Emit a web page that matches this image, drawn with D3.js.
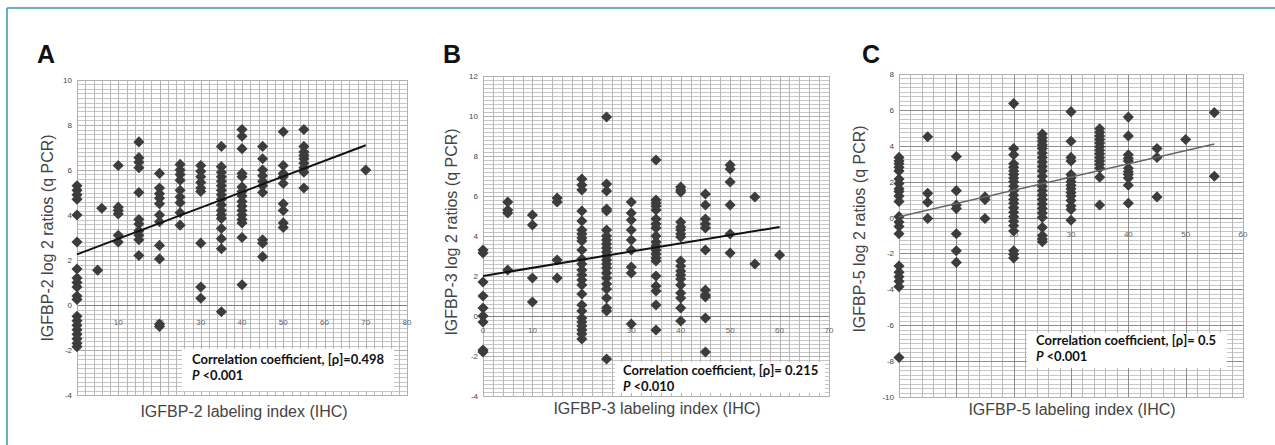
<!DOCTYPE html>
<html>
<head>
<meta charset="utf-8">
<script src="https://cdn.jsdelivr.net/npm/d3@7"></script>
<style>
  html, body { margin: 0; padding: 0; background: #ffffff; }
  svg { display: block; }
</style>
</head>
<body>
<svg id="chart" width="1275" height="445"></svg>
<script>
// ---------------- DATA ----------------
// Panel A: IGFBP-2
const xA = [0, 5, 6, 10, 15, 20, 25, 30, 35, 40, 45, 50, 55, 70];
const yA = [
  [5.3, 5.1, 4.9, 4.7, 4.0, 2.8, 1.6, 1.2, 1.0, 0.8, 0.4, 0.25, -0.5, -0.7, -0.9, -1.1, -1.3, -1.5, -1.7, -1.85],
  [1.55],
  [4.3],
  [6.2, 4.35, 4.2, 4.05, 3.1, 2.8],
  [7.25, 6.55, 6.35, 6.1, 5.0, 3.8, 3.6, 3.3, 3.1, 2.9, 2.2],
  [5.85, 5.2, 4.95, 4.75, 4.5, 4.0, 3.7, 2.65, 2.05, -0.85, -0.95],
  [6.25, 6.0, 5.8, 5.55, 5.1, 4.8, 4.55, 4.1, 3.55],
  [6.2, 5.95, 5.7, 5.45, 5.2, 5.05, 2.75, 0.8, 0.3],
  [7.05, 6.15, 5.9, 5.7, 5.5, 5.3, 5.1, 4.9, 4.7, 4.45, 4.2, 4.0, 3.85, 3.4, 2.95, 2.5, -0.3],
  [7.8, 7.5, 6.95, 5.85, 5.7, 5.25, 5.05, 4.85, 4.6, 4.4, 4.2, 4.0, 3.8, 3.65, 3.0, 0.9],
  [7.05, 6.5, 6.0, 5.75, 5.5, 5.3, 5.0, 2.9, 2.75, 2.15],
  [7.7, 6.2, 5.85, 5.7, 5.4, 4.5, 4.2, 3.65, 3.45],
  [7.8, 7.05, 6.8, 6.65, 6.5, 6.3, 6.1, 5.9, 5.2],
  [6.0]
];
const trendA = [[0, 2.25], [70, 7.1]];

// Panel B: IGFBP-3
const xB = [0, 5, 10, 15, 20, 25, 30, 35, 40, 45, 50, 55, 60];
const yB = [
  [3.3, 3.15, 1.7, 1.0, 0.4, 0.0, -0.3, -1.7, -1.8],
  [5.7, 5.3, 5.15, 2.3],
  [5.05, 4.55, 1.9, 0.7],
  [5.9, 5.7, 2.8, 1.9],
  [6.85, 6.55, 6.3, 5.25, 4.75, 4.3, 4.1, 3.9, 3.75, 3.3, 2.85, 2.6, 2.3, 2.05, 1.8, 1.55, 1.1, 0.55, 0.25, -0.1, -0.3, -0.5, -0.7, -0.9, -1.15],
  [9.95, 6.6, 6.25, 5.35, 5.25, 4.3, 4.0, 3.8, 3.6, 3.4, 3.2, 3.0, 2.8, 2.6, 2.4, 2.15, 1.9, 1.6, 1.35, 0.9, 0.4, 0.25, -2.15],
  [5.7, 5.15, 4.8, 4.3, 3.8, 3.3, 2.45, 2.15, -0.4],
  [7.8, 5.8, 5.65, 5.5, 5.3, 4.85, 4.6, 4.4, 4.0, 3.7, 3.5, 3.3, 3.1, 2.9, 2.75, 2.0, 1.5, 1.25, 0.55, -0.7],
  [6.45, 6.3, 6.2, 4.7, 4.45, 4.3, 4.1, 3.95, 2.75, 2.5, 2.25, 2.05, 1.85, 1.55, 1.15, 0.9, 0.4, -0.25],
  [6.1, 5.55, 4.85, 4.6, 4.4, 3.3, 1.3, 1.05, 0.95, -0.1, -1.8],
  [7.55, 7.35, 6.7, 5.55, 4.1, 3.15],
  [5.95, 2.6],
  [3.05]
];
const trendB = [[0, 2.0], [60, 4.45]];

// Panel C: IGFBP-5
const xC = [0, 5, 10, 15, 20, 25, 30, 35, 40, 45, 50, 55];
const yC = [
  [3.35, 3.15, 3.0, 2.8, 2.6, 2.15, 1.9, 1.6, 1.45, 1.2, 0.9, 0.05, -0.25, -0.5, -0.9, -2.7, -3.05, -3.3, -3.55, -3.85, -7.8],
  [4.5, 1.35, 0.85, -0.05],
  [3.4, 1.5, 0.7, 0.5, -0.9, -1.85, -2.5],
  [1.15, 1.0, -0.05],
  [6.35, 3.85, 3.5, 3.0, 2.8, 2.6, 2.4, 2.2, 2.0, 1.75, 1.5, 1.25, 1.0, 0.8, 0.55, 0.3, 0.05, -0.2, -0.45, -0.75, -1.85, -2.05, -2.25],
  [4.65, 4.45, 4.25, 4.05, 3.85, 3.6, 3.35, 3.1, 2.85, 2.6, 2.3, 2.0, 1.75, 1.5, 1.25, 1.0, 0.75, 0.5, 0.25, 0.0, -0.55, -1.0, -1.2, -1.35],
  [5.9, 4.25, 3.35, 3.15, 2.4, 2.2, 2.0, 1.8, 1.6, 1.4, 1.2, 0.95, 0.65, 0.45, -0.15],
  [4.95, 4.75, 4.55, 4.35, 4.15, 3.95, 3.75, 3.55, 3.35, 3.15, 2.95, 2.75, 2.25, 0.7],
  [5.6, 4.55, 3.5, 3.3, 3.15, 2.75, 2.55, 2.4, 2.2, 1.8, 0.8],
  [3.85, 3.35, 1.15],
  [4.35],
  [5.85, 2.3]
];
const trendC = [[0, 0.05], [55, 4.1]];

// Axis tick values and texts
const xTicksA = [0, 10, 20, 30, 40, 50, 60, 70, 80];
const yTicksA = [-4, -2, 0, 2, 4, 6, 8, 10];
const xTicksB = [0, 10, 20, 30, 40, 50, 60, 70];
const yTicksB = [-4, -2, 0, 2, 4, 6, 8, 10, 12];
const xTicksC = [0, 10, 20, 30, 40, 50, 60];
const yTicksC = [-10, -8, -6, -4, -2, 0, 2, 4, 6, 8];

const panelLetters = ["A", "B", "C"];
const yTitles = ["IGFBP-2 log 2 ratios (q PCR)", "IGFBP-3 log 2 ratios (q PCR)", "IGFBP-5 log 2 ratios (q PCR)"];
const xTitles = ["IGFBP-2 labeling index (IHC)", "IGFBP-3 labeling index (IHC)", "IGFBP-5 labeling index (IHC)"];
const corrTexts = ["Correlation coefficient, [\u03C1]=0.498", "Correlation coefficient, [\u03C1]= 0.215", "Correlation coefficient, [\u03C1]= 0.5"];
const pTexts = ["<0.001", "<0.010", "<0.001"];

// ---------------- LAYOUT ----------------
const svg = d3.select("#chart");

// outer teal frame (top & left edges visible)
svg.append("line").attr("x1", 7).attr("x2", 1275).attr("y1", 8).attr("y2", 8)
  .attr("stroke", "#3a97a5").attr("stroke-width", 1.5);
svg.append("line").attr("x1", 7).attr("x2", 7).attr("y1", 8).attr("y2", 445)
  .attr("stroke", "#3a97a5").attr("stroke-width", 1.5);

const panels = [
  { xs: xA, ys: yA, trend: trendA, xt: xTicksA, yt: yTicksA, xd: [0, 80], yd: [-4, 10],
    l: 77, r: 407, t: 80, b: 395, minorY: 0.2, major: false, trendColor: "#111", trendW: 2,
    letterX: 37, titleYX: 53, titleYY: 238, titleXX: 244, titleXY: 417,
    box: [182, 349, 212, 42], textX: 192, textY: 364, labOff: 20 },
  { xs: xB, ys: yB, trend: trendB, xt: xTicksB, yt: yTicksB, xd: [0, 70], yd: [-4, 12],
    l: 483, r: 829, t: 76, b: 396, minorY: 0.2, major: false, trendColor: "#111", trendW: 2,
    letterX: 443, titleYX: 457, titleYY: 232, titleXX: 657, titleXY: 414,
    box: [615, 362, 210, 31], textX: 623, textY: 375, labOff: 17 },
  { xs: xC, ys: yC, trend: trendC, xt: xTicksC, yt: yTicksC, xd: [0, 60], yd: [-10, 8],
    l: 899, r: 1243, t: 74, b: 397, minorY: 0.25, major: true, trendColor: "#666", trendW: 1.5,
    letterX: 862, titleYX: 865, titleYY: 229, titleXX: 1072, titleXY: 415,
    box: [1027, 333, 200, 35], textX: 1036, textY: 345, labOff: 19 }
];

const diamond = d3.symbol().type(d3.symbolSquare).size(62);

panels.forEach((p, i) => {
  const x = d3.scaleLinear().domain(p.xd).range([p.l, p.r]);
  const y = d3.scaleLinear().domain(p.yd).range([p.b, p.t]);
  const g = svg.append("g");

  // minor grid
  const minorX = d3.range(p.xd[0], p.xd[1] + 0.001, 2);
  const nY = Math.round((p.yd[1] - p.yd[0]) / p.minorY);
  const minorYv = d3.range(0, nY + 1).map(k => p.yd[0] + k * p.minorY);
  g.append("g").selectAll("line").data(minorYv).join("line")
    .attr("x1", p.l).attr("x2", p.r)
    .attr("y1", d => Math.round(y(d)) + 0.5).attr("y2", d => Math.round(y(d)) + 0.5)
    .attr("stroke", "#c6c6c6").attr("stroke-width", 1);
  g.append("g").selectAll("line").data(minorX).join("line")
    .attr("y1", p.t).attr("y2", p.b)
    .attr("x1", d => Math.round(x(d)) + 0.5).attr("x2", d => Math.round(x(d)) + 0.5)
    .attr("stroke", "#b8b8b8").attr("stroke-width", 1);

  // major grid
  const majColor = p.major ? "#8c8c8c" : "#b0b0b0";
  g.append("g").selectAll("line").data(p.yt).join("line")
    .attr("x1", p.l).attr("x2", p.r)
    .attr("y1", d => Math.round(y(d)) + 0.5).attr("y2", d => Math.round(y(d)) + 0.5)
    .attr("stroke", majColor).attr("stroke-width", 1);
  g.append("g").selectAll("line").data(p.xt).join("line")
    .attr("y1", p.t).attr("y2", p.b)
    .attr("x1", d => Math.round(x(d)) + 0.5).attr("x2", d => Math.round(x(d)) + 0.5)
    .attr("stroke", majColor).attr("stroke-width", 1);

  // zero line (category axis)
  g.append("line").attr("x1", p.l).attr("x2", p.r)
    .attr("y1", Math.round(y(0)) + 0.5).attr("y2", Math.round(y(0)) + 0.5)
    .attr("stroke", "#808080").attr("stroke-width", 1);

  // frame of plot
  g.append("rect").attr("x", p.l + 0.5).attr("y", p.t + 0.5)
    .attr("width", p.r - p.l).attr("height", p.b - p.t)
    .attr("fill", "none").attr("stroke", "#b0b0b0");

  // y tick labels
  g.append("g").selectAll("text").data(p.yt).join("text")
    .attr("x", p.l - 5).attr("y", d => y(d) + 3)
    .attr("text-anchor", "end")
    .attr("font-family", "Liberation Sans, Arial, sans-serif")
    .attr("font-size", 8).attr("fill", "#444")
    .text(d => d);

  // x tick labels (at the zero line)
  g.append("g").selectAll("text").data(p.xt).join("text")
    .attr("x", d => x(d)).attr("y", y(0) + p.labOff)
    .attr("text-anchor", "middle")
    .attr("font-family", "Liberation Sans, Arial, sans-serif")
    .attr("font-size", 8).attr("fill", "#666")
    .text(d => d);

  // annotation box
  g.append("rect").attr("x", p.box[0]).attr("y", p.box[1])
    .attr("width", p.box[2]).attr("height", p.box[3]).attr("fill", "#fff");
  g.append("text").attr("x", p.textX).attr("y", p.textY)
    .attr("font-family", "Lato, Open Sans, sans-serif").attr("font-weight", "bold")
    .attr("font-size", 13).attr("fill", "#111")
    .text(corrTexts[i]);
  const pt = g.append("text").attr("x", p.textX).attr("y", p.textY + 16)
    .attr("font-family", "Lato, Open Sans, sans-serif").attr("font-weight", "bold")
    .attr("font-size", 13).attr("fill", "#111");
  pt.append("tspan").attr("font-style", "italic").text("P");
  pt.append("tspan").attr("dx", 3).text(pTexts[i]);

  // points
  const pts = [];
  p.xs.forEach((xv, k) => p.ys[k].forEach(v => pts.push([xv, v])));
  g.append("g").selectAll("path").data(pts).join("path")
    .attr("d", diamond)
    .attr("transform", d => `translate(${x(d[0])},${y(d[1])}) rotate(45)`)
    .attr("fill", "#3c3c3c");

  // trend line
  g.append("path").datum(p.trend)
    .attr("d", d3.line().x(d => x(d[0])).y(d => y(d[1])))
    .attr("stroke", p.trendColor).attr("stroke-width", p.trendW).attr("fill", "none");

  // panel letter
  svg.append("text").attr("x", p.letterX).attr("y", 63)
    .attr("font-family", "Liberation Sans, Arial, sans-serif").attr("font-weight", "bold")
    .attr("font-size", 25).attr("fill", "#111").text(panelLetters[i]);

  // axis titles
  svg.append("text")
    .attr("transform", `translate(${p.titleYX},${p.titleYY}) rotate(-90)`)
    .attr("text-anchor", "middle")
    .attr("font-family", "Liberation Sans, Arial, sans-serif")
    .attr("font-size", 16).attr("fill", "#444").text(yTitles[i]);
  svg.append("text").attr("x", p.titleXX).attr("y", p.titleXY)
    .attr("text-anchor", "middle")
    .attr("font-family", "Liberation Sans, Arial, sans-serif")
    .attr("font-size", 16).attr("fill", "#444").text(xTitles[i]);
});
</script>
</body>
</html>
